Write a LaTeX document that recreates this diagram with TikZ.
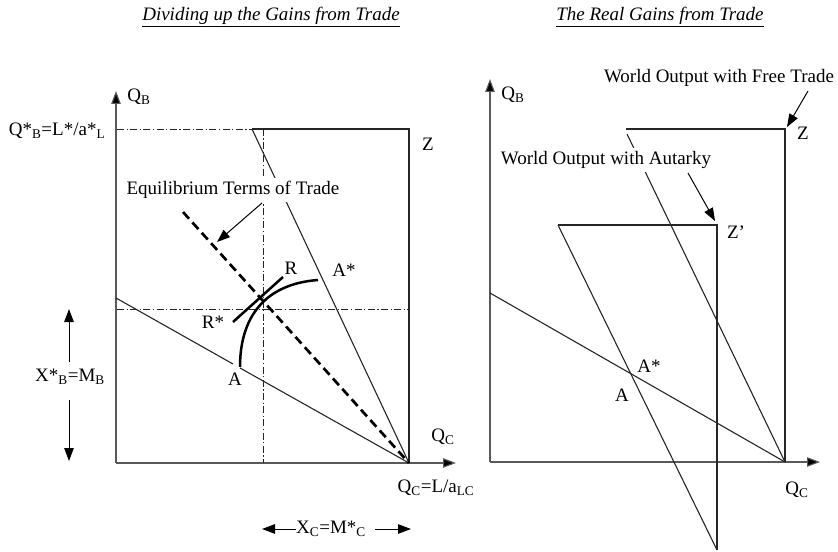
\documentclass[tikz,border=0pt]{standalone}
\usepackage{fontspec}
\setmainfont{Liberation Serif}
\usetikzlibrary{arrows.meta}
\newcommand{\sbs}[1]{\textsubscript{#1}}
\begin{document}
\begin{tikzpicture}[x=1bp,y=-1bp,
  every node/.style={font=\fontsize{19bp}{22bp}\selectfont, inner sep=1bp},
  ln/.style={line width=1.1bp, draw=black!85},
  ax/.style={line width=1.1bp, draw=black!65, -{Triangle[length=13bp,width=9.5bp,fill=black]}},
  dd/.style={line width=0.9bp, draw=black!85, dash pattern=on 7bp off 2.5bp on 1.2bp off 2.5bp},
  eqd/.style={line width=2.7bp, dash pattern=on 9bp off 5bp},
  thk/.style={line width=2.5bp},
  pt/.style={-{Triangle[length=13bp,width=9.5bp]}, line width=1bp},
  lbl/.style={fill=white, inner sep=3bp}
]
\useasboundingbox (0,0) rectangle (838,552);

% ---------- titles ----------
\node (t1) at (271,17) {\itshape\underline{Dividing up the Gains from Trade}};
\node (t2) at (660,17) {\itshape\underline{The Real Gains from Trade}};

% ---------- left panel coordinates ----------
\coordinate (O1) at (116,463);
\coordinate (Y1) at (116,91);
\coordinate (X1) at (456,463);
\coordinate (TL) at (252,129);
\coordinate (Zc) at (409,129);
\coordinate (BR) at (409,463);
\coordinate (HL) at (116,298);
\coordinate (G1) at (233,364);
\coordinate (G2) at (240,368);
\coordinate (EQ) at (183,212);
\coordinate (A1) at (240,367);
\coordinate (As1) at (318,280);
\coordinate (Rs) at (233,322);
\coordinate (Rr) at (283,277);
\coordinate (VT) at (263,129);
\coordinate (VB) at (263,463);
\coordinate (HLd) at (117,309);
\coordinate (HRd) at (409,309);
\coordinate (QL) at (117,129);

% axes
\draw[ax] (O1) -- (Y1);
\draw[ax] (O1) -- (X1);
% box
\draw[ln] (TL) -- (Zc) -- (BR);
% dash-dot guides
\draw[dd] (QL) -- (TL);
\draw[dd] (VT) -- (VB);
\draw[dd] (HLd) -- (HRd);
% home PPF
\draw[ln] (HL) -- (G1);
\draw[ln] (G2) -- (BR);
% foreign PPF
\draw[ln] (TL) -- (BR);
% terms of trade
\draw[eqd] (EQ) -- (BR);
% curve and tangent
\draw[thk] (A1) .. controls (240,318) and (264,284) .. (As1);
\draw[thk] (Rs) -- (Rr);

% labels left
\node (qb1) at (139,97) {Q\sbs{B}};
\node (qsb) at (57,131) {Q*\sbs{B}=L*/a*\sbs{L}};
\node (z1) at (428,144) {Z};
\node (r1) at (291,268) {R};
\node (as1) at (344,270) {A*};
\node (rs1) at (213,322) {R*};
\node (a1) at (235,379) {A};
\node (qc1) at (443,437) {Q\sbs{C}};
\node (qcl) at (436,488) {Q\sbs{C}=L/a\sbs{LC}};
\node[lbl] (eqt) at (233,190) {Equilibrium Terms of Trade};
\coordinate (eqs) at (262,203);
\coordinate (eqe) at (217,242);
\draw[pt] (eqs) -- (eqe);

% X*B = MB
\node (xb) at (70,377) {X*\sbs{B}=M\sbs{B}};
\coordinate (u1) at (69,362);
\coordinate (u2) at (69,309);
\coordinate (d1) at (69,400);
\coordinate (d2) at (69,461);
\draw[pt] (u1) -- (u2);
\draw[pt] (d1) -- (d2);

% XC = M*C
\node (xc) at (331,529) {X\sbs{C}=M*\sbs{C}};
\coordinate (l1) at (296,529);
\coordinate (l2) at (262,529);
\coordinate (r1a) at (375,529);
\coordinate (r2a) at (411,529);
\draw[pt] (l1) -- (l2);
\draw[pt] (r1a) -- (r2a);

% ---------- right panel ----------
\coordinate (O2) at (490,462);
\coordinate (Y2) at (490,79);
\coordinate (X2) at (820,462);
\coordinate (TL2) at (626,129);
\coordinate (Z2) at (785,129);
\coordinate (BR2) at (785,462);
\coordinate (ST) at (627,134);
\coordinate (HL2) at (490,293);
\coordinate (TLa) at (558,225);
\coordinate (Za) at (717,225);
\coordinate (Ba) at (717,550);

\draw[ax] (O2) -- (Y2);
\draw[ax] (O2) -- (X2);
\draw[ln] (TL2) -- (Z2) -- (BR2);
\draw[ln] (ST) -- (BR2);
\draw[ln] (HL2) -- (BR2);
\draw[ln] (TLa) -- (Za) -- (Ba);
\draw[ln] (TLa) -- (Ba);

\node (qb2) at (513,95) {Q\sbs{B}};
\node (qc2) at (797,490) {Q\sbs{C}};
\node (z2) at (803,133) {Z};
\node (za) at (736,232) {Z’};
\node (as2) at (649,366) {A*};
\node (a2) at (622,395) {A};

\node[lbl] (wf) at (719,78) {World Output with Free Trade};
\coordinate (wfs) at (808,91);
\coordinate (wfe) at (787,127);
\draw[pt] (wfs) -- (wfe);

\node[lbl] (wa) at (606,160) {World Output with Autarky};
\coordinate (was) at (688,173);
\coordinate (wae) at (715,221);
\draw[pt] (was) -- (wae);
\end{tikzpicture}
\end{document}
